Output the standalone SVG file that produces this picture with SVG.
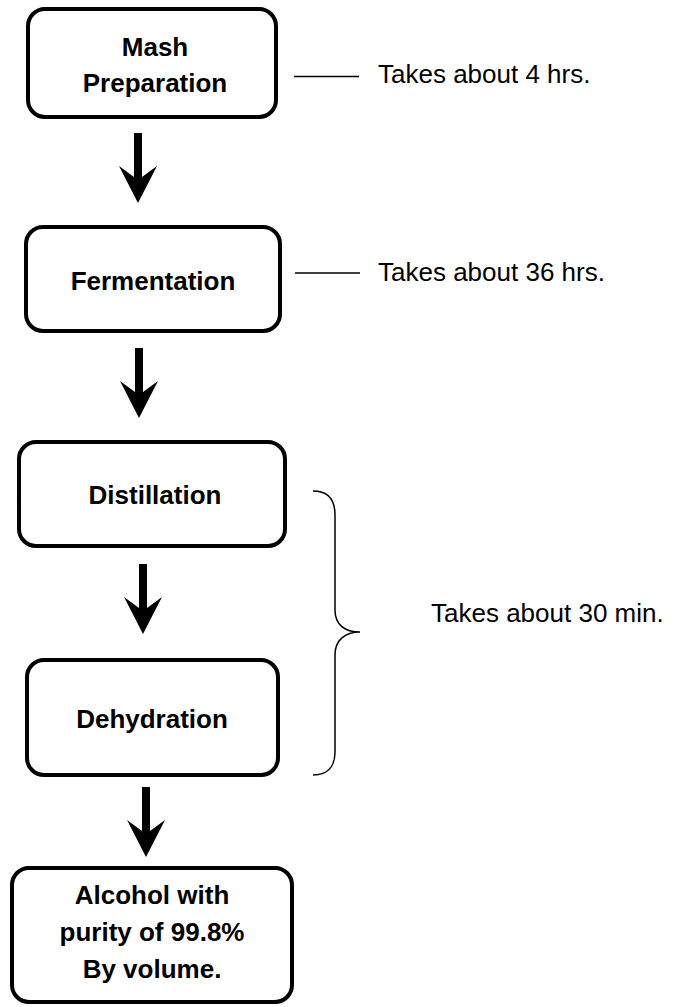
<svg xmlns="http://www.w3.org/2000/svg" width="675" height="1007" viewBox="0 0 675 1007">
<style>
.box{fill:#fff;stroke:#000;stroke-width:4}
.bt{font-family:"Liberation Sans",Arial,sans-serif;font-weight:bold;font-size:26px;fill:#000;text-anchor:middle}
.nt{font-family:"Liberation Sans",Arial,sans-serif;font-size:26px;fill:#000}
.thin{fill:none;stroke:#000;stroke-width:1.5}
</style>
<defs>
<path id="arr" d="M-4,0 H4 V44 L19,33 L0,70 L-19,33 L-4,44 Z" fill="#000"/>
</defs>
<rect width="675" height="1007" fill="#fff"/>
<g id="mash">
<rect class="box" x="28" y="9" width="248" height="108" rx="17"/>
<text class="bt" x="155" y="56">Mash</text>
<text class="bt" x="155" y="92">Preparation</text>
</g>
<g id="fermentation">
<rect class="box" x="26" y="227" width="254" height="104" rx="17"/>
<text class="bt" x="153" y="290">Fermentation</text>
</g>
<g id="distillation">
<rect class="box" x="19" y="442" width="266" height="104" rx="17"/>
<text class="bt" x="155" y="504">Distillation</text>
</g>
<g id="dehydration">
<rect class="box" x="27" y="660" width="251" height="115" rx="17"/>
<text class="bt" x="152" y="728">Dehydration</text>
</g>
<g id="alcohol">
<rect class="box" x="12" y="868" width="280" height="134" rx="17"/>
<text class="bt" x="152" y="904">Alcohol with</text>
<text class="bt" x="152" y="941">purity of 99.8%</text>
<text class="bt" x="152" y="978">By volume.</text>
</g>
<g id="connectors">
<use href="#arr" x="138" y="133"/>
<use href="#arr" x="139" y="348"/>
<use href="#arr" x="143" y="564"/>
<use href="#arr" x="146" y="787"/>
<line class="thin" x1="294" y1="76.5" x2="359" y2="76.5"/>
<line class="thin" x1="295" y1="273" x2="360" y2="273"/>
<path class="thin" d="M313,491 C328,491 335,500 335,515 L335,610 C335,625 345,632 360,632 C345,632 335,640 335,655 L335,752 C335,766 328,775 313,775"/>
</g>
<g id="notes">
<text class="nt" x="378" y="83">Takes about 4 hrs.</text>
<text class="nt" x="378" y="281">Takes about 36 hrs.</text>
<text class="nt" x="431" y="622">Takes about 30 min.</text>
</g>
</svg>
